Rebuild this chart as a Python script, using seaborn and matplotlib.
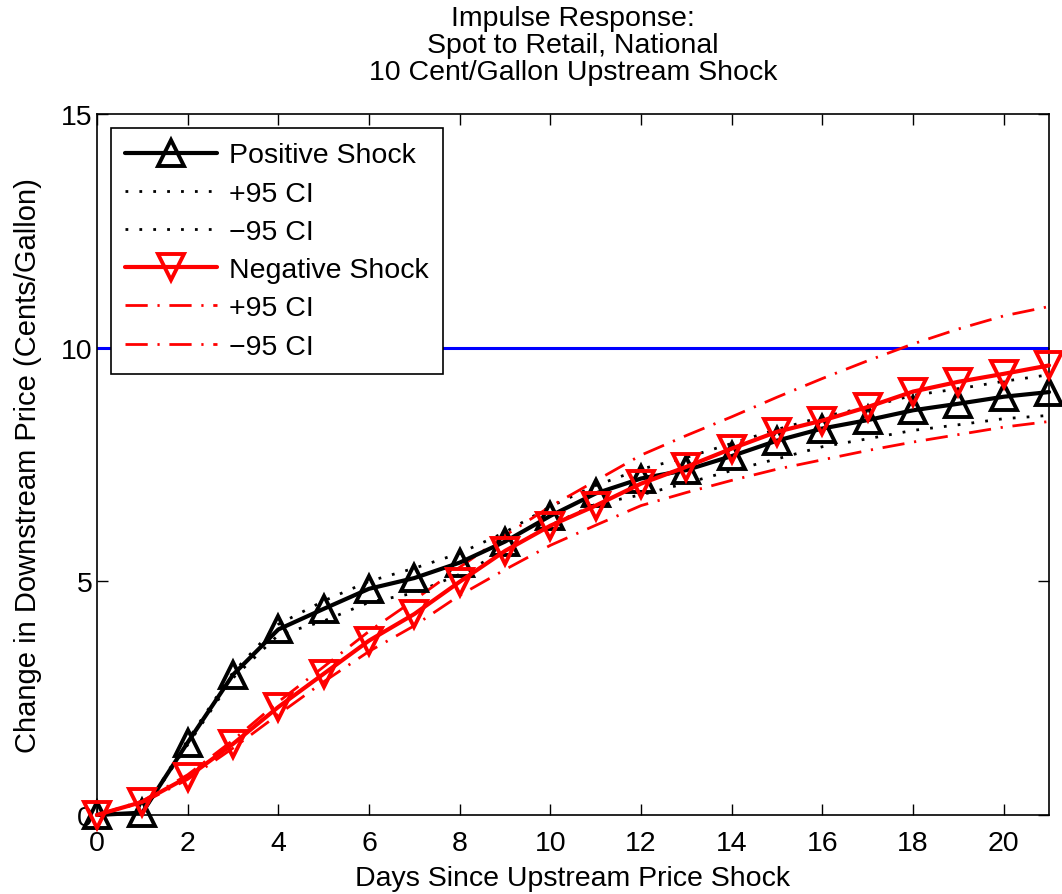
import numpy as np
import pandas as pd
import seaborn as sns
from matplotlib import pyplot as plt

days = list(range(22))
pos_shock = [0, 0.05, 1.55, 3.0, 3.97, 4.41, 4.84, 5.07, 5.4, 5.85, 6.4,
             6.88, 7.2, 7.38, 7.68, 8.01, 8.27, 8.45, 8.66, 8.8, 8.95, 9.05]
pos_upper = [0, 0.05, 1.6, 3.05, 4.08, 4.58, 5.0, 5.28, 5.6, 6.05, 6.6,
             7.05, 7.4, 7.65, 7.95, 8.25, 8.52, 8.73, 8.98, 9.12, 9.28, 9.42]
pos_lower = [0, 0.05, 1.5, 2.93, 3.85, 4.15, 4.55, 4.75, 5.15, 5.65, 6.2,
             6.65, 6.85, 7.1, 7.37, 7.62, 7.88, 8.05, 8.23, 8.35, 8.48, 8.55]
neg_shock = [0, 0.28, 0.81, 1.52, 2.31, 3.02, 3.73, 4.3, 4.99, 5.65, 6.19,
             6.62, 7.09, 7.45, 7.84, 8.2, 8.44, 8.73, 9.06, 9.27, 9.44, 9.62]
neg_upper = [0, 0.3, 0.86, 1.6, 2.42, 3.17, 3.93, 4.6, 5.3, 5.98, 6.6,
             7.15, 7.7, 8.12, 8.52, 8.94, 9.34, 9.72, 10.08, 10.4, 10.68, 10.88]
neg_lower = [0, 0.26, 0.76, 1.43, 2.15, 2.85, 3.5, 4.05, 4.7, 5.25, 5.77,
             6.2, 6.62, 6.9, 7.16, 7.4, 7.6, 7.8, 7.98, 8.14, 8.3, 8.42]
shock_size = 10

sns.set_theme(style="white")
plt.rcParams["font.family"] = ["Liberation Sans", "DejaVu Sans"]
plt.rcParams.update({
    "xtick.direction": "in", "ytick.direction": "in",
    "xtick.top": True, "ytick.right": True,
    "xtick.bottom": True, "ytick.left": True,
    "xtick.major.size": 8, "ytick.major.size": 8,
    "xtick.major.width": 1, "ytick.major.width": 1,
    "xtick.major.pad": 11, "ytick.major.pad": 3,
    "axes.edgecolor": "black", "axes.linewidth": 1.2,
    "text.color": "black", "axes.labelcolor": "black",
    "xtick.color": "black", "ytick.color": "black",
    "font.size": 20.5,
})

fs = 20.5
fig = plt.figure(figsize=(10.62, 8.95), dpi=100)
ax = fig.add_axes([0.0913, 0.0883, 0.8965, 0.7832])

ax.axhline(shock_size, color="blue", lw=2.2, zorder=1)

mk = dict(markersize=19, markerfacecolor="none", markeredgewidth=2.8, clip_on=False)
dash_dot = (0, (8, 3.5, 0.8, 3.5))
dotted = (0, (1, 4))

sns.lineplot(x=days, y=pos_shock, ax=ax, color="black", lw=3, marker="^",
             markeredgecolor="black", label="Positive Shock", zorder=4, **mk)
sns.lineplot(x=days, y=pos_upper, ax=ax, color="black", lw=2, ls=dotted,
             label="+95 CI")
sns.lineplot(x=days, y=pos_lower, ax=ax, color="black", lw=2, ls=dotted,
             label="\u221295 CI")
sns.lineplot(x=days, y=neg_shock, ax=ax, color="red", lw=3, marker="v",
             markeredgecolor="red", label="Negative Shock", zorder=5, **mk)
sns.lineplot(x=days, y=neg_upper, ax=ax, color="red", lw=2, ls=dash_dot,
             label="+95 CI")
sns.lineplot(x=days, y=neg_lower, ax=ax, color="red", lw=2, ls=dash_dot,
             label="\u221295 CI")

ax.set_xlim(0, 21)
ax.set_ylim(0, 15)
ax.set_xticks(range(0, 21, 2))
ax.set_yticks([0, 5, 10, 15])
ax.tick_params(labelsize=fs)
ax.set_xlabel("Days Since Upstream Price Shock", fontsize=fs, labelpad=6)
ax.set_ylabel("Change in Downstream Price (Cents/Gallon)", fontsize=21, labelpad=14)
ax.set_title("Impulse Response:\nSpot to Retail, National\n10 Cent/Gallon Upstream Shock",
             fontsize=fs, pad=25, linespacing=1.05)

leg = ax.legend(loc="upper left", fontsize=fs, handlelength=3.2,
                fancybox=False, framealpha=1, edgecolor="black",
                borderaxespad=0.5, labelspacing=0.43, handletextpad=0.45,
                borderpad=0.5)
leg.get_frame().set_linewidth(1.2)
leg.set_zorder(10)

for side in ax.spines.values():
    side.set_visible(True)

fig.savefig("out.png", dpi=100)
